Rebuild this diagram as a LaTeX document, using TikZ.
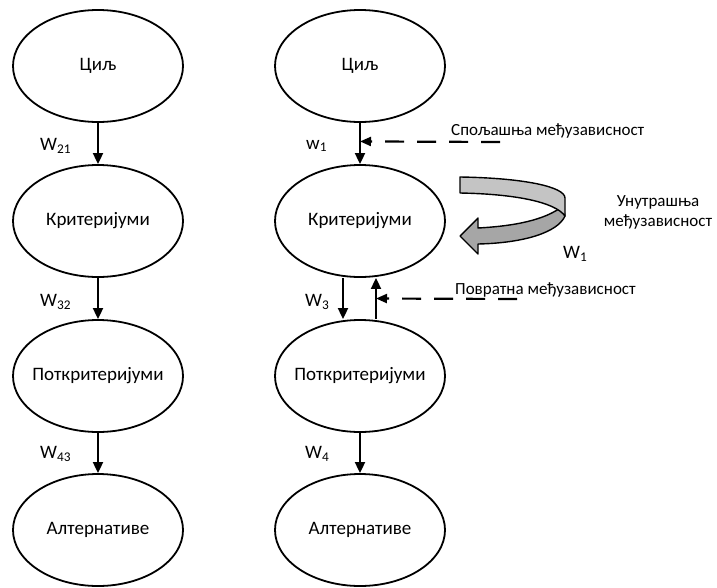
\documentclass[tikz,border=0pt]{standalone}
\usepackage{fontspec}
\setmainfont{Carlito}
\usetikzlibrary{shapes.geometric,arrows.meta,calc}
\definecolor{bandlight}{RGB}{196,196,196}
\definecolor{banddark}{RGB}{166,166,166}
\newcommand{\ctx}[1]{\makebox[0pt]{#1}}
\begin{document}
\begin{tikzpicture}[x=1pt,y=-1pt,
  ell/.style={ellipse,draw,line width=1.8pt,minimum width=170pt,minimum height=112pt,inner sep=0pt,font=\fontsize{19}{22}\selectfont},
  arr/.style={line width=1.8pt,-{Triangle[length=11pt,width=10pt]}},
  darr/.style={line width=2.2pt,dash pattern=on 19pt off 13pt,-{Triangle[length=11pt,width=9pt]}},
  wlab/.style={anchor=west,inner sep=0pt,font=\fontsize{19}{22}\selectfont},
  ann/.style={inner sep=0pt,font=\fontsize{17}{20}\selectfont},
  band/.style={draw,line width=1.4pt,line join=round}]
\useasboundingbox (0,0) rectangle (717,587);
% left column
\node[ell] (c1) at (98,66) {\ctx{Циљ}};
\node[ell] (k1) at (98,221) {\ctx{Критеријуми}};
\node[ell] (p1) at (98,376) {\ctx{Поткритеријуми}};
\node[ell] (a1) at (98,530) {\ctx{Алтернативе}};
\draw[arr] (c1.south) -- (k1.north);
\draw[arr] (k1.south) -- (p1.north);
\draw[arr] (p1.south) -- (a1.north);
\node[wlab] (w21) at (40,146) {W\textsubscript{21}};
\node[wlab] (w32) at (40,302) {W\textsubscript{32}};
\node[wlab] (w43) at (40,454) {W\textsubscript{43}};
% right column
\node[ell] (c2) at (360,66) {\ctx{Циљ}};
\node[ell] (k2) at (360,221) {\ctx{Критеријуми}};
\node[ell] (p2) at (360,376) {\ctx{Поткритеријуми}};
\node[ell] (a2) at (360,530) {\ctx{Алтернативе}};
\draw[arr] (c2.south) -- (k2.north);
\draw[arr] ([xshift=-17pt]k2.south) -- ([xshift=-17pt]p2.north);
\draw[arr] ([xshift=16pt]p2.north) -- ([xshift=16pt]k2.south);
\draw[arr] (p2.south) -- (a2.north);
\node[wlab] (w1) at (306,146) {w\textsubscript{1}};
\node[wlab] (w3) at (305,302) {W\textsubscript{3}};
\node[wlab] (w4) at (305,454) {W\textsubscript{4}};
% external interdependence
\coordinate (e1) at (500,142);
\coordinate (e2) at ($(c2.south)!0.45!(k2.north)$);
\draw[darr] (e1) -- (e2);
\node[ann,anchor=west] (ext) at (451,131) {Спољашња међузависност};
% feedback
\coordinate (f1) at (517,299);
\coordinate (f2) at ($([xshift=16pt]k2.south)!0.5!([xshift=16pt]p2.north)$);
\draw[darr] (f1) -- (f2);
\node[ann,anchor=west] (fb) at (455,290) {Повратна међузависност};
% inner interdependence ribbon arrow
\path[band,fill=banddark] (563,206) .. controls (545,220) and (515,226) .. (478,228)
  -- (478,218) -- (460,236) -- (478,254) -- (478,244)
  .. controls (525,243) and (558,232) .. (565,216) -- cycle;
\path[band,fill=bandlight] (460,177) .. controls (525,178) and (565,187) .. (565,198)
  -- (565,216) .. controls (555,202) and (515,194) .. (460,193) -- cycle;
\node[ann,align=center] (inn) at (658,212) {Унутрашња\\међузависност};
\node[wlab] (wW1) at (563,254) {W\textsubscript{1}};
\end{tikzpicture}
\end{document}
